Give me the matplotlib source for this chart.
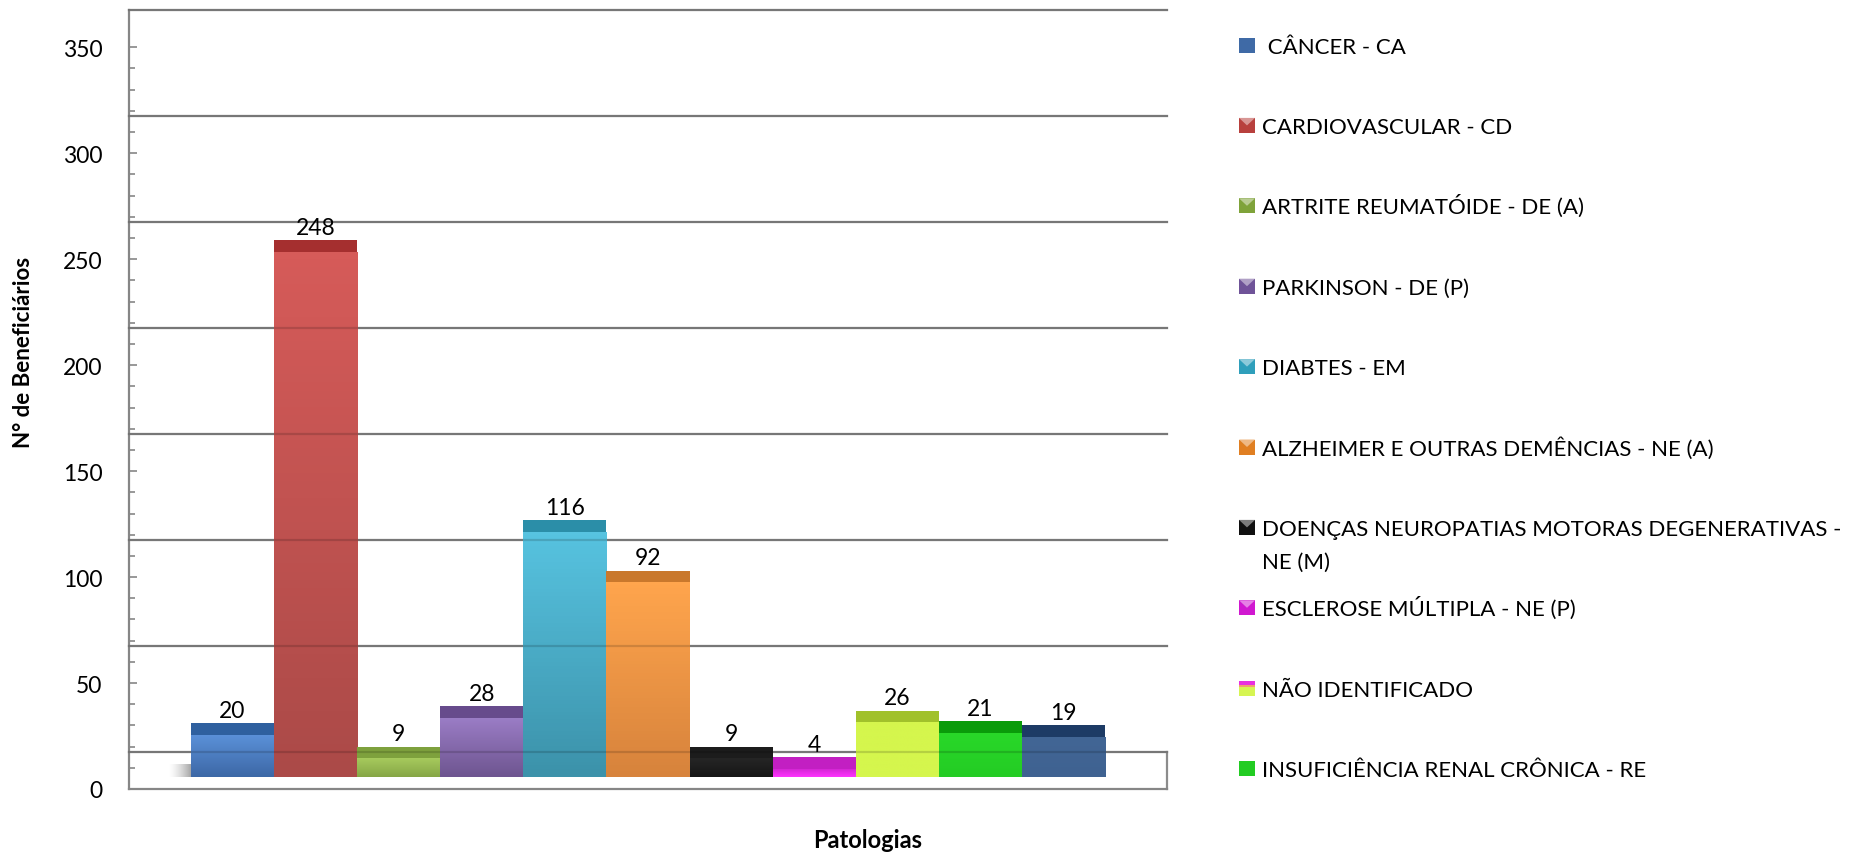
import numpy as np
import matplotlib
matplotlib.use('Agg')
import matplotlib.pyplot as plt
from matplotlib.patches import Rectangle, Polygon
from matplotlib.colors import LinearSegmentedColormap, to_rgba, to_rgb

# dados
categorias = [' CÂNCER - CA', 'CARDIOVASCULAR - CD', 'ARTRITE REUMATÓIDE - DE (A)',
              'PARKINSON - DE (P)', 'DIABTES - EM', 'ALZHEIMER E OUTRAS DEMÊNCIAS - NE (A)',
              'DOENÇAS NEUROPATIAS MOTORAS DEGENERATIVAS -\nNE (M)', 'ESCLEROSE MÚLTIPLA - NE (P)',
              'NÃO IDENTIFICADO', 'INSUFICIÊNCIA RENAL CRÔNICA - RE', '']
beneficiarios = [20, 248, 9, 28, 116, 92, 9, 4, 26, 21, 19]

# cores: face frontal (topo -> base), tampa, legenda
frente_topo = ['#5b91d9', '#d65b59', '#a8cc5e', '#9b7dc6', '#57c3e0', '#ffa54d',
               '#262626', '#cf25cf', '#d5f64d', '#29d829', '#426695']
frente_base = ['#3d68a6', '#ab4a48', '#86a646', '#6e5590', '#3c92aa', '#d7833c',
               '#161616', '#ff33ff', '#d5f64d', '#24cc24', '#3f6291']
tampa_cor = ['#2f609f', '#a52f2f', '#7ea13d', '#674b8c', '#2b8ea8', '#c9782c',
             '#1c1c1c', '#c21fc2', '#a1c12b', '#0a9b0a', '#1d3b65']
legenda_cor = ['#3f6aa6', '#b8403d', '#7fa33a', '#6f5398', '#2f9fbb', '#e07f22',
               '#101010', '#d018d0', '#d6f552', '#22cc22']
chanfro = [False, True, True, True, True, True, True, True, False, False]

fonte = 'Lato'

W, H = 1853, 854
fig = plt.figure(figsize=(W / 100, H / 100), dpi=100)
ax = fig.add_axes([129 / W, 64 / H, 1038 / W, 779 / H])

base = 5.5      # deslocamento do 3D
tampa = 5.5     # altura da face superior
piso = 17.6     # linhas de grade da parede de fundo

x = np.arange(len(beneficiarios))
vals = np.array(beneficiarios)

bars = ax.bar(x, vals, width=1.0, bottom=base, color=frente_topo, linewidth=0, zorder=3)
for b, c1, c2 in zip(bars, frente_topo, frente_base):
    cmap = LinearSegmentedColormap.from_list('g', [c1, c2])
    x0, y0 = b.get_x(), b.get_y()
    im = ax.imshow(np.linspace(0, 1, 64).reshape(-1, 1), cmap=cmap, aspect='auto',
                   extent=[x0, x0 + b.get_width(), y0, y0 + b.get_height()],
                   origin='upper', zorder=3.1)
    im.set_clip_path(b)
ax.bar(x, [tampa] * len(x), width=1.0, bottom=base + vals, color=tampa_cor,
       linewidth=0, zorder=3.2)

for xi, v in zip(x, vals):
    ax.annotate(str(v), (xi, base + v + tampa), xytext=(0, 4.5), textcoords='offset points',
                ha='center', va='baseline', fontsize=16.5, family=fonte, color='black', zorder=5)

# sombra a esquerda da primeira barra
sombra = np.zeros((1, 32, 4))
sombra[..., :3] = to_rgba('#707070')[:3]
sombra[..., 3] = np.linspace(0, 0.75, 32) ** 1.5
ax.imshow(sombra, aspect='auto', extent=[-0.78, -0.5, base, base + 6], zorder=2)

ax.set_xlim(-0.5 - 62 / 83.1, len(x) - 0.5 + 62 / 83.1)
ax.set_ylim(0, 367.6)

# grade da parede de fundo
for g in np.arange(piso, 368, 50):
    ax.axhline(g, color='#8c8c8c', lw=1.6, zorder=1, clip_on=False)
    ax.axhline(g, color='black', lw=1.6, alpha=0.15, zorder=4, clip_on=False)
ax.axvline(ax.get_xlim()[1], ymin=0, ymax=piso / 367.6, color='#8c8c8c', lw=1.6, clip_on=False)

for s in ['top', 'right']:
    ax.spines[s].set_visible(False)
for s in ['left', 'bottom']:
    ax.spines[s].set_color('#868686')
    ax.spines[s].set_linewidth(1.6)

ax.set_xticks([])
ax.set_yticks(np.arange(0, 351, 50))
ax.set_yticks(np.arange(0, 351, 10), minor=True)
ax.tick_params(axis='y', which='major', direction='in', length=6, width=1.2,
               color='#868686', pad=19, labelsize=16.5)
ax.tick_params(axis='y', which='minor', direction='in', length=4.5, width=1.2, color='#868686')
for t in ax.get_yticklabels():
    t.set_family(fonte)

fig.text(24 / W, 1 - 352 / H, 'N° de Beneficiários', rotation=90, ha='center', va='center',
         fontsize=16, fontweight='bold', family=fonte)
fig.text(868 / W, 6 / H, 'Patologias', ha='center', va='baseline',
         fontsize=17, fontweight='bold', family=fonte)

# legenda (cortada no original apos 10 itens)
linha0, passo = 46, 80.4
mx, mw, mh = 1239, 16, 15
for i, (nome, cor, chf) in enumerate(zip(categorias[:10], legenda_cor, chanfro)):
    yc = linha0 + i * passo
    topo_y = 1 - (yc - mh / 2) / H
    base_y = 1 - (yc + mh / 2) / H
    fig.patches.append(Rectangle((mx / W, base_y), mw / W, mh / H,
                                 transform=fig.transFigure, facecolor=cor, edgecolor='none'))
    if chf:
        claro = tuple(0.55 * np.array(to_rgb(cor)) + 0.45)
        fig.patches.append(Polygon([(mx / W, topo_y), ((mx + mw) / W, topo_y),
                                    ((mx + mw / 2) / W, 1 - yc / H)], closed=True,
                                   transform=fig.transFigure, facecolor=claro, edgecolor='none'))
    if nome == 'NÃO IDENTIFICADO':
        fig.patches.append(Rectangle((mx / W, 1 - (yc - 3.5) / H), mw / W, 4 / H,
                                     transform=fig.transFigure, facecolor='#e830e0',
                                     edgecolor='none'))
        fig.patches.append(Rectangle((mx / W, 1 - (yc - 1.5) / H), mw / W, 2 / H,
                                     transform=fig.transFigure, facecolor='#f0a070',
                                     edgecolor='none'))
    tx = 1261.5
    for j, t in enumerate(nome.split('\n')):
        fig.text(tx / W, 1 - (yc + 7.5 + j * 33.4) / H, t, ha='left', va='baseline',
                 fontsize=16, family=fonte, color='black')

fig.savefig('out.png', dpi=100)
